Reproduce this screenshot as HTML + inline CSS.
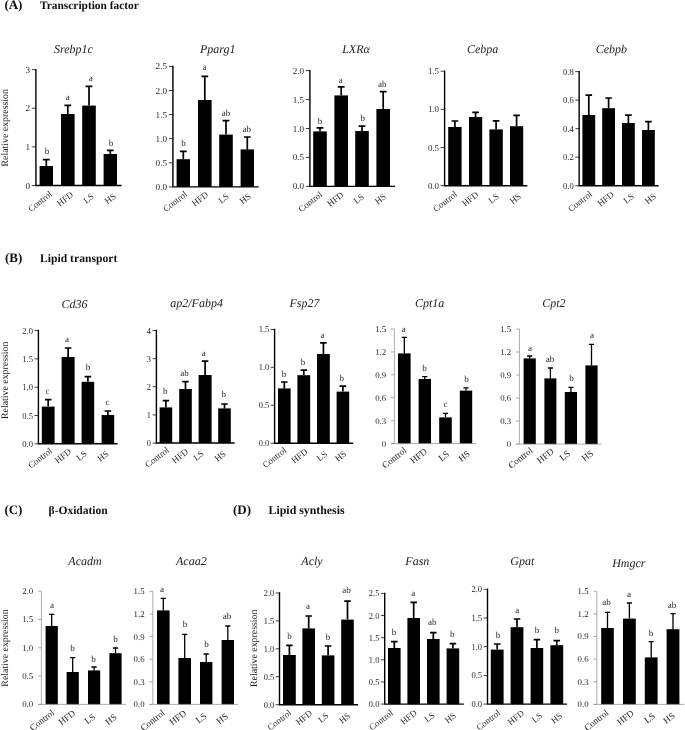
<!DOCTYPE html>
<html><head><meta charset="utf-8"><title>Figure</title>
<style>
html,body{margin:0;padding:0;background:#fff}
svg{display:block}
svg text{font-family:"Liberation Serif","DejaVu Serif",serif;text-rendering:geometricPrecision}
.ti{font-style:italic;font-size:12px;text-anchor:middle;fill:#222}
</style></head><body>
<svg width="685" height="730" viewBox="0 0 685 730">
<rect width="685" height="730" fill="#fff"/>
<defs><filter id="sf" x="0" y="0" width="685" height="730" filterUnits="userSpaceOnUse"><feGaussianBlur stdDeviation="0.25"/></filter></defs>
<g filter="url(#sf)">
<text x="4.4" y="9.4" font-size="13" font-weight="bold" fill="#111">(A)</text>
<text x="40" y="9.4" font-size="11.4" font-weight="bold" fill="#111">Transcription factor</text>
<text x="5" y="261.6" font-size="13" font-weight="bold" fill="#111">(B)</text>
<text x="40" y="262.2" font-size="11.65" font-weight="bold" fill="#111">Lipid transport</text>
<text x="4.4" y="514.4" font-size="13" font-weight="bold" fill="#111">(C)</text>
<text x="48.6" y="514.4" font-size="11.5" font-weight="bold" fill="#111">β-Oxidation</text>
<text x="233" y="514.4" font-size="13" font-weight="bold" fill="#111">(D)</text>
<text x="268.6" y="514.4" font-size="11.85" font-weight="bold" fill="#111">Lipid synthesis</text>
<g><text x="73.5" y="52.6" class="ti">Srebp1c</text>
<rect x="39.6" y="166" width="13.4" height="19.5"/>
<path d="M46.3 166V159.6M42.9 159.6H49.7" stroke="#000" stroke-width="1.7" fill="none"/>
<rect x="61" y="114" width="13.6" height="71.5"/>
<path d="M67.8 114V105.4M64.4 105.4H71.2" stroke="#000" stroke-width="1.7" fill="none"/>
<rect x="82.2" y="105.6" width="13.6" height="79.9"/>
<path d="M89 105.6V86.4M85.6 86.4H92.4" stroke="#000" stroke-width="1.7" fill="none"/>
<rect x="103.6" y="154" width="13.4" height="31.5"/>
<path d="M110.3 154V150.4M106.9 150.4H113.7" stroke="#000" stroke-width="1.7" fill="none"/>
<path d="M31.8 185.5H35.9M31.8 146.87H35.9M31.8 108.23H35.9M31.8 69.6H35.9" stroke="#000" stroke-width="0.75" fill="none"/>
<path d="M35.9 68.9V185.5M35.2 185.5H121.6" stroke="#000" stroke-width="1.4" fill="none"/>
<text x="30.1" y="188.54" text-anchor="end" font-size="9.2" fill="#2a2a2a">0</text>
<text x="30.1" y="149.9" text-anchor="end" font-size="9.2" fill="#2a2a2a">1</text>
<text x="30.1" y="111.27" text-anchor="end" font-size="9.2" fill="#2a2a2a">2</text>
<text x="30.1" y="72.64" text-anchor="end" font-size="9.2" fill="#2a2a2a">3</text>
<text x="47" y="154.1" text-anchor="middle" font-size="9.0" fill="#2a2a2a">b</text>
<text x="67.8" y="100.1" text-anchor="middle" font-size="9.0" fill="#2a2a2a">a</text>
<text x="90.7" y="80.9" text-anchor="middle" font-size="9.0" fill="#2a2a2a">a</text>
<text x="111" y="145.6" text-anchor="middle" font-size="9.0" fill="#2a2a2a">b</text>
<text transform="translate(52.7 195.3) rotate(-38)" text-anchor="end" font-size="9.0" fill="#2a2a2a">Control</text>
<text transform="translate(74 195.7) rotate(-38)" text-anchor="end" font-size="9.0" fill="#2a2a2a">HFD</text>
<text transform="translate(94.5 197.5) rotate(-38)" text-anchor="end" font-size="9.0" fill="#2a2a2a">LS</text>
<text transform="translate(116.6 197.3) rotate(-38)" text-anchor="end" font-size="9.0" fill="#2a2a2a">HS</text>
<text transform="translate(8.2 127.8) rotate(-90)" text-anchor="middle" font-size="9.85" fill="#1a1a1a">Relative expression</text></g>
<g><text x="217.7" y="52.7" class="ti">Pparg1</text>
<rect x="176.6" y="159.2" width="13.4" height="27.7"/>
<path d="M183.3 159.2V151.4M179.9 151.4H186.7" stroke="#000" stroke-width="1.7" fill="none"/>
<rect x="198" y="100" width="13.6" height="86.9"/>
<path d="M204.8 100V76.4M201.4 76.4H208.2" stroke="#000" stroke-width="1.7" fill="none"/>
<rect x="219.2" y="134.6" width="13.6" height="52.3"/>
<path d="M226 134.6V120.6M222.6 120.6H229.4" stroke="#000" stroke-width="1.7" fill="none"/>
<rect x="240.6" y="149.4" width="13.4" height="37.5"/>
<path d="M247.3 149.4V137M243.9 137H250.7" stroke="#000" stroke-width="1.7" fill="none"/>
<path d="M168.8 186.9H172.9M168.8 162.8H172.9M168.8 138.7H172.9M168.8 114.6H172.9M168.8 90.5H172.9M168.8 66.4H172.9" stroke="#000" stroke-width="0.75" fill="none"/>
<path d="M172.9 65.7V186.9M172.2 186.9H258.6" stroke="#000" stroke-width="1.4" fill="none"/>
<text x="167.1" y="189.94" text-anchor="end" font-size="9.2" fill="#2a2a2a">0.0</text>
<text x="167.1" y="165.84" text-anchor="end" font-size="9.2" fill="#2a2a2a">0.5</text>
<text x="167.1" y="141.74" text-anchor="end" font-size="9.2" fill="#2a2a2a">1.0</text>
<text x="167.1" y="117.64" text-anchor="end" font-size="9.2" fill="#2a2a2a">1.5</text>
<text x="167.1" y="93.54" text-anchor="end" font-size="9.2" fill="#2a2a2a">2.0</text>
<text x="167.1" y="69.44" text-anchor="end" font-size="9.2" fill="#2a2a2a">2.5</text>
<text x="183.6" y="145.6" text-anchor="middle" font-size="9.0" fill="#2a2a2a">b</text>
<text x="204.5" y="69.7" text-anchor="middle" font-size="9.0" fill="#2a2a2a">a</text>
<text x="226" y="115.5" text-anchor="middle" font-size="9.0" fill="#2a2a2a">ab</text>
<text x="246.7" y="131.7" text-anchor="middle" font-size="9.0" fill="#2a2a2a">ab</text>
<text transform="translate(187.7 195.3) rotate(-38)" text-anchor="end" font-size="9.0" fill="#2a2a2a">Control</text>
<text transform="translate(209 195.7) rotate(-38)" text-anchor="end" font-size="9.0" fill="#2a2a2a">HFD</text>
<text transform="translate(229.5 197.5) rotate(-38)" text-anchor="end" font-size="9.0" fill="#2a2a2a">LS</text>
<text transform="translate(251.6 197.3) rotate(-38)" text-anchor="end" font-size="9.0" fill="#2a2a2a">HS</text></g>
<g><text x="356" y="52.7" class="ti">LXRα</text>
<rect x="313.2" y="131.4" width="13.6" height="55"/>
<path d="M320 131.4V127.8M316.62 127.8H323.38" stroke="#000" stroke-width="1.7" fill="none"/>
<rect x="334.4" y="95.4" width="13.6" height="91"/>
<path d="M341.2 95.4V86.8M337.82 86.8H344.58" stroke="#000" stroke-width="1.7" fill="none"/>
<rect x="355.2" y="131" width="13.6" height="55.4"/>
<path d="M362 131V126.2M358.62 126.2H365.38" stroke="#000" stroke-width="1.7" fill="none"/>
<rect x="376.4" y="109" width="13.6" height="77.4"/>
<path d="M383.2 109V91.6M379.82 91.6H386.58" stroke="#000" stroke-width="1.7" fill="none"/>
<path d="M305.84 186.4H309.9M305.84 157.45H309.9M305.84 128.5H309.9M305.84 99.55H309.9M305.84 70.6H309.9" stroke="#000" stroke-width="0.75" fill="none"/>
<path d="M309.9 69.9V186.4M309.2 186.4H395.1" stroke="#000" stroke-width="1.4" fill="none"/>
<text transform="translate(304.16 189.44) scale(0.989 1)" text-anchor="end" font-size="9.2" fill="#2a2a2a">0.0</text>
<text transform="translate(304.16 160.49) scale(0.989 1)" text-anchor="end" font-size="9.2" fill="#2a2a2a">0.5</text>
<text transform="translate(304.16 131.54) scale(0.989 1)" text-anchor="end" font-size="9.2" fill="#2a2a2a">1.0</text>
<text transform="translate(304.16 102.59) scale(0.989 1)" text-anchor="end" font-size="9.2" fill="#2a2a2a">1.5</text>
<text transform="translate(304.16 73.64) scale(0.989 1)" text-anchor="end" font-size="9.2" fill="#2a2a2a">2.0</text>
<text x="319.9" y="124.2" text-anchor="middle" font-size="9.0" fill="#2a2a2a">b</text>
<text x="340.6" y="82.6" text-anchor="middle" font-size="9.0" fill="#2a2a2a">a</text>
<text x="362.7" y="121" text-anchor="middle" font-size="9.0" fill="#2a2a2a">b</text>
<text x="382.3" y="86.6" text-anchor="middle" font-size="9.0" fill="#2a2a2a">ab</text>
<text transform="translate(322.9 195.6) rotate(-38)" text-anchor="end" font-size="9.0" fill="#2a2a2a">Control</text>
<text transform="translate(344.2 196) rotate(-38)" text-anchor="end" font-size="9.0" fill="#2a2a2a">HFD</text>
<text transform="translate(364.7 197.8) rotate(-38)" text-anchor="end" font-size="9.0" fill="#2a2a2a">LS</text>
<text transform="translate(386.8 197.6) rotate(-38)" text-anchor="end" font-size="9.0" fill="#2a2a2a">HS</text></g>
<g><text x="482.6" y="52.7" class="ti">Cebpa</text>
<rect x="448.2" y="127" width="13.4" height="58.7"/>
<path d="M454.9 127V121M451.56 121H458.24" stroke="#000" stroke-width="1.7" fill="none"/>
<rect x="469" y="117" width="13.2" height="68.7"/>
<path d="M475.6 117V112.4M472.26 112.4H478.94" stroke="#000" stroke-width="1.7" fill="none"/>
<rect x="489.4" y="129.4" width="13.4" height="56.3"/>
<path d="M496.1 129.4V120.8M492.76 120.8H499.44" stroke="#000" stroke-width="1.7" fill="none"/>
<rect x="510" y="126.2" width="13.2" height="59.5"/>
<path d="M516.6 126.2V115.4M513.26 115.4H519.94" stroke="#000" stroke-width="1.7" fill="none"/>
<path d="M440.61 185.7H444.6M440.61 147.53H444.6M440.61 109.37H444.6M440.61 71.2H444.6" stroke="#000" stroke-width="0.75" fill="none"/>
<path d="M444.6 70.5V185.7M443.9 185.7H527.4" stroke="#000" stroke-width="1.4" fill="none"/>
<text transform="translate(438.99 188.74) scale(0.967 1)" text-anchor="end" font-size="9.2" fill="#2a2a2a">0.0</text>
<text transform="translate(438.99 150.57) scale(0.967 1)" text-anchor="end" font-size="9.2" fill="#2a2a2a">0.5</text>
<text transform="translate(438.99 112.4) scale(0.967 1)" text-anchor="end" font-size="9.2" fill="#2a2a2a">1.0</text>
<text transform="translate(438.99 74.24) scale(0.967 1)" text-anchor="end" font-size="9.2" fill="#2a2a2a">1.5</text>
<text transform="translate(457.8 195.3) rotate(-38)" text-anchor="end" font-size="9.0" fill="#2a2a2a">Control</text>
<text transform="translate(479.1 195.7) rotate(-38)" text-anchor="end" font-size="9.0" fill="#2a2a2a">HFD</text>
<text transform="translate(499.6 197.5) rotate(-38)" text-anchor="end" font-size="9.0" fill="#2a2a2a">LS</text>
<text transform="translate(521.7 197.3) rotate(-38)" text-anchor="end" font-size="9.0" fill="#2a2a2a">HS</text></g>
<g><text x="611.4" y="52.7" class="ti">Cebpb</text>
<rect x="582.4" y="115" width="12.8" height="70.7"/>
<path d="M588.8 115V95.2M585.51 95.2H592.09" stroke="#000" stroke-width="1.7" fill="none"/>
<rect x="602.2" y="108.2" width="12.8" height="77.5"/>
<path d="M608.6 108.2V98M605.31 98H611.89" stroke="#000" stroke-width="1.7" fill="none"/>
<rect x="622" y="123" width="12.8" height="62.7"/>
<path d="M628.4 123V115.2M625.11 115.2H631.69" stroke="#000" stroke-width="1.7" fill="none"/>
<rect x="642" y="130" width="12.8" height="55.7"/>
<path d="M648.4 130V121.6M645.11 121.6H651.69" stroke="#000" stroke-width="1.7" fill="none"/>
<path d="M575.28 185.7H579.15M575.28 157.17H579.15M575.28 128.65H579.15M575.28 100.12H579.15M575.28 71.6H579.15" stroke="#000" stroke-width="0.75" fill="none"/>
<path d="M579.15 70.9V185.7M578.45 185.7H658.6" stroke="#000" stroke-width="1.4" fill="none"/>
<text transform="translate(573.74 188.74) scale(0.933 1)" text-anchor="end" font-size="9.2" fill="#2a2a2a">0.0</text>
<text transform="translate(573.74 160.21) scale(0.933 1)" text-anchor="end" font-size="9.2" fill="#2a2a2a">0.2</text>
<text transform="translate(573.74 131.69) scale(0.933 1)" text-anchor="end" font-size="9.2" fill="#2a2a2a">0.4</text>
<text transform="translate(573.74 103.16) scale(0.933 1)" text-anchor="end" font-size="9.2" fill="#2a2a2a">0.6</text>
<text transform="translate(573.74 74.64) scale(0.933 1)" text-anchor="end" font-size="9.2" fill="#2a2a2a">0.8</text>
<text transform="translate(592.7 195.3) rotate(-38)" text-anchor="end" font-size="9.0" fill="#2a2a2a">Control</text>
<text transform="translate(614.6 195.7) rotate(-38)" text-anchor="end" font-size="9.0" fill="#2a2a2a">HFD</text>
<text transform="translate(634.6 197.5) rotate(-38)" text-anchor="end" font-size="9.0" fill="#2a2a2a">LS</text>
<text transform="translate(656.9 197.3) rotate(-38)" text-anchor="end" font-size="9.0" fill="#2a2a2a">HS</text></g>
<g><text x="74.6" y="307.9" class="ti">Cd36</text>
<rect x="41.8" y="406.6" width="12.8" height="37.2"/>
<path d="M48.2 406.6V399.6M44.91 399.6H51.49" stroke="#000" stroke-width="1.7" fill="none"/>
<rect x="61.6" y="357" width="13" height="86.8"/>
<path d="M68.1 357V348M64.81 348H71.39" stroke="#000" stroke-width="1.7" fill="none"/>
<rect x="81.6" y="381.8" width="12.6" height="62"/>
<path d="M87.9 381.8V376.6M84.61 376.6H91.19" stroke="#000" stroke-width="1.7" fill="none"/>
<rect x="101.6" y="415" width="12.6" height="28.8"/>
<path d="M107.9 415V411M104.61 411H111.19" stroke="#000" stroke-width="1.7" fill="none"/>
<path d="M34.52 443.8H38.4M34.52 415.48H38.4M34.52 387.15H38.4M34.52 358.82H38.4M34.52 330.5H38.4" stroke="#000" stroke-width="0.75" fill="none"/>
<path d="M38.4 329.8V443.8M37.7 443.8H117.6" stroke="#000" stroke-width="1.4" fill="none"/>
<text transform="translate(32.97 446.84) scale(0.936 1)" text-anchor="end" font-size="9.2" fill="#2a2a2a">0.0</text>
<text transform="translate(32.97 418.51) scale(0.936 1)" text-anchor="end" font-size="9.2" fill="#2a2a2a">0.5</text>
<text transform="translate(32.97 390.19) scale(0.936 1)" text-anchor="end" font-size="9.2" fill="#2a2a2a">1.0</text>
<text transform="translate(32.97 361.86) scale(0.936 1)" text-anchor="end" font-size="9.2" fill="#2a2a2a">1.5</text>
<text transform="translate(32.97 333.54) scale(0.936 1)" text-anchor="end" font-size="9.2" fill="#2a2a2a">2.0</text>
<text x="47.6" y="393.8" text-anchor="middle" font-size="9.0" fill="#2a2a2a">c</text>
<text x="67" y="342.2" text-anchor="middle" font-size="9.0" fill="#2a2a2a">a</text>
<text x="88" y="370.2" text-anchor="middle" font-size="9.0" fill="#2a2a2a">b</text>
<text x="107.6" y="405.2" text-anchor="middle" font-size="9.0" fill="#2a2a2a">c</text>
<text transform="translate(52.7 451.9) rotate(-38)" text-anchor="end" font-size="9.0" fill="#2a2a2a">Control</text>
<text transform="translate(72 452.7) rotate(-38)" text-anchor="end" font-size="9.0" fill="#2a2a2a">HFD</text>
<text transform="translate(87.5 454.7) rotate(-38)" text-anchor="end" font-size="9.0" fill="#2a2a2a">LS</text>
<text transform="translate(109.35 454.9) rotate(-38)" text-anchor="end" font-size="9.0" fill="#2a2a2a">HS</text>
<text transform="translate(8.2 380.3) rotate(-90)" text-anchor="middle" font-size="9.85" fill="#1a1a1a">Relative expression</text></g>
<g><text x="196.6" y="307" class="ti">ap2/Fabp4</text>
<rect x="159.6" y="407.4" width="12.6" height="35.65"/>
<path d="M165.9 407.4V400.6M162.64 400.6H169.16" stroke="#000" stroke-width="1.7" fill="none"/>
<rect x="179.2" y="389" width="12.6" height="54.05"/>
<path d="M185.5 389V381.6M182.24 381.6H188.76" stroke="#000" stroke-width="1.7" fill="none"/>
<rect x="198.6" y="375" width="13" height="68.05"/>
<path d="M205.1 375V361.2M201.84 361.2H208.36" stroke="#000" stroke-width="1.7" fill="none"/>
<rect x="218.2" y="408.4" width="12.6" height="34.65"/>
<path d="M224.5 408.4V404M221.24 404H227.76" stroke="#000" stroke-width="1.7" fill="none"/>
<path d="M152.58 443.05H156.4M152.58 414.91H156.4M152.58 386.77H156.4M152.58 358.64H156.4M152.58 330.5H156.4" stroke="#000" stroke-width="0.75" fill="none"/>
<path d="M156.4 329.8V443.05M155.7 443.05H234.6" stroke="#000" stroke-width="1.4" fill="none"/>
<text transform="translate(151.08 446.09) scale(0.917 1)" text-anchor="end" font-size="9.2" fill="#2a2a2a">0</text>
<text transform="translate(151.08 417.95) scale(0.917 1)" text-anchor="end" font-size="9.2" fill="#2a2a2a">1</text>
<text transform="translate(151.08 389.81) scale(0.917 1)" text-anchor="end" font-size="9.2" fill="#2a2a2a">2</text>
<text transform="translate(151.08 361.67) scale(0.917 1)" text-anchor="end" font-size="9.2" fill="#2a2a2a">3</text>
<text transform="translate(151.08 333.54) scale(0.917 1)" text-anchor="end" font-size="9.2" fill="#2a2a2a">4</text>
<text x="165.2" y="394.3" text-anchor="middle" font-size="9.0" fill="#2a2a2a">b</text>
<text x="184.6" y="375.9" text-anchor="middle" font-size="9.0" fill="#2a2a2a">ab</text>
<text x="203.8" y="355.5" text-anchor="middle" font-size="9.0" fill="#2a2a2a">a</text>
<text x="223.8" y="397.1" text-anchor="middle" font-size="9.0" fill="#2a2a2a">b</text>
<text transform="translate(169.7 451.1) rotate(-38)" text-anchor="end" font-size="9.0" fill="#2a2a2a">Control</text>
<text transform="translate(189 452.7) rotate(-38)" text-anchor="end" font-size="9.0" fill="#2a2a2a">HFD</text>
<text transform="translate(204.5 454.7) rotate(-38)" text-anchor="end" font-size="9.0" fill="#2a2a2a">LS</text>
<text transform="translate(226.55 454.9) rotate(-38)" text-anchor="end" font-size="9.0" fill="#2a2a2a">HS</text></g>
<g><text x="304.5" y="307" class="ti">Fsp27</text>
<rect x="278" y="388.4" width="12.6" height="54.8"/>
<path d="M284.3 388.4V382M281.04 382H287.56" stroke="#000" stroke-width="1.7" fill="none"/>
<rect x="297.4" y="375.2" width="12.8" height="68"/>
<path d="M303.8 375.2V370.2M300.54 370.2H307.06" stroke="#000" stroke-width="1.7" fill="none"/>
<rect x="317" y="354" width="12.8" height="89.2"/>
<path d="M323.4 354V342.8M320.14 342.8H326.66" stroke="#000" stroke-width="1.7" fill="none"/>
<rect x="336.6" y="391.6" width="12.6" height="51.6"/>
<path d="M342.9 391.6V386.2M339.64 386.2H346.16" stroke="#000" stroke-width="1.7" fill="none"/>
<path d="M270.78 443.2H274.6M270.78 405.27H274.6M270.78 367.33H274.6M270.78 329.4H274.6" stroke="#000" stroke-width="0.75" fill="none"/>
<path d="M274.6 328.7V443.2M273.9 443.2H353.2" stroke="#000" stroke-width="1.4" fill="none"/>
<text transform="translate(269.28 446.24) scale(0.917 1)" text-anchor="end" font-size="9.2" fill="#2a2a2a">0.0</text>
<text transform="translate(269.28 408.3) scale(0.917 1)" text-anchor="end" font-size="9.2" fill="#2a2a2a">0.5</text>
<text transform="translate(269.28 370.37) scale(0.917 1)" text-anchor="end" font-size="9.2" fill="#2a2a2a">1.0</text>
<text transform="translate(269.28 332.44) scale(0.917 1)" text-anchor="end" font-size="9.2" fill="#2a2a2a">1.5</text>
<text x="283.9" y="376.9" text-anchor="middle" font-size="9.0" fill="#2a2a2a">b</text>
<text x="302.9" y="364.5" text-anchor="middle" font-size="9.0" fill="#2a2a2a">b</text>
<text x="322.5" y="337.6" text-anchor="middle" font-size="9.0" fill="#2a2a2a">a</text>
<text x="341.8" y="380.5" text-anchor="middle" font-size="9.0" fill="#2a2a2a">b</text>
<text transform="translate(287.2 451.4) rotate(-38)" text-anchor="end" font-size="9.0" fill="#2a2a2a">Control</text>
<text transform="translate(308.4 452.7) rotate(-38)" text-anchor="end" font-size="9.0" fill="#2a2a2a">HFD</text>
<text transform="translate(327.9 455.2) rotate(-38)" text-anchor="end" font-size="9.0" fill="#2a2a2a">LS</text>
<text transform="translate(347.05 454.9) rotate(-38)" text-anchor="end" font-size="9.0" fill="#2a2a2a">HS</text></g>
<g><text x="429.7" y="307" class="ti">Cpt1a</text>
<rect x="398" y="353.4" width="12.6" height="90.2"/>
<path d="M404.3 353.4V337.4M401.7 337.4H406.9" stroke="#000" stroke-width="1.3" fill="none"/>
<rect x="418.6" y="379" width="12.4" height="64.6"/>
<path d="M424.8 379V376.6M422.2 376.6H427.4" stroke="#000" stroke-width="1.3" fill="none"/>
<rect x="439.2" y="417.4" width="12.6" height="26.2"/>
<path d="M445.5 417.4V413.4M442.9 413.4H448.1" stroke="#000" stroke-width="1.3" fill="none"/>
<rect x="459.8" y="390.6" width="12.4" height="53"/>
<path d="M466 390.6V387.8M463.4 387.8H468.6" stroke="#000" stroke-width="1.3" fill="none"/>
<path d="M391.05 443.6H394.4M391.05 420.68H394.4M391.05 397.76H394.4M391.05 374.84H394.4M391.05 351.92H394.4M391.05 329H394.4" stroke="#8a8a8a" stroke-width="0.7" fill="none"/>
<path d="M394.4 329V443.6M391.4 443.6H476.4" stroke="#8a8a8a" stroke-width="0.7" fill="none"/>
<text x="386.2" y="446.5" text-anchor="end" font-size="8.8" fill="#262626">0</text>
<text x="386.2" y="423.58" text-anchor="end" font-size="8.8" fill="#262626">0.3</text>
<text x="386.2" y="400.66" text-anchor="end" font-size="8.8" fill="#262626">0.6</text>
<text x="386.2" y="377.74" text-anchor="end" font-size="8.8" fill="#262626">0.9</text>
<text x="386.2" y="354.82" text-anchor="end" font-size="8.8" fill="#262626">1.2</text>
<text x="386.2" y="331.9" text-anchor="end" font-size="8.8" fill="#262626">1.5</text>
<text x="403.4" y="332.2" text-anchor="middle" font-size="9.1" fill="#262626">a</text>
<text x="424.6" y="371.2" text-anchor="middle" font-size="9.1" fill="#262626">b</text>
<text x="445.6" y="407.2" text-anchor="middle" font-size="9.1" fill="#262626">c</text>
<text x="466.6" y="382.2" text-anchor="middle" font-size="9.1" fill="#262626">b</text>
<text transform="translate(407.2 451.4) rotate(-38)" text-anchor="end" font-size="9.2" fill="#262626">Control</text>
<text transform="translate(427.7 452.7) rotate(-38)" text-anchor="end" font-size="9.2" fill="#262626">HFD</text>
<text transform="translate(449.9 455.2) rotate(-38)" text-anchor="end" font-size="9.2" fill="#262626">LS</text>
<text transform="translate(470.65 454.9) rotate(-38)" text-anchor="end" font-size="9.2" fill="#262626">HS</text></g>
<g><text x="553.8" y="307" class="ti">Cpt2</text>
<rect x="523.6" y="358.4" width="12.2" height="85.7"/>
<path d="M529.7 358.4V356M527.1 356H532.3" stroke="#000" stroke-width="1.3" fill="none"/>
<rect x="544.4" y="378.4" width="12" height="65.7"/>
<path d="M550.4 378.4V368M547.8 368H553" stroke="#000" stroke-width="1.3" fill="none"/>
<rect x="564.8" y="392" width="12.2" height="52.1"/>
<path d="M570.9 392V387.4M568.3 387.4H573.5" stroke="#000" stroke-width="1.3" fill="none"/>
<rect x="585.4" y="365.4" width="12.2" height="78.7"/>
<path d="M591.5 365.4V344.4M588.9 344.4H594.1" stroke="#000" stroke-width="1.3" fill="none"/>
<path d="M516.05 444.1H519.4M516.05 421.08H519.4M516.05 398.06H519.4M516.05 375.04H519.4M516.05 352.02H519.4M516.05 329H519.4" stroke="#8a8a8a" stroke-width="0.7" fill="none"/>
<path d="M519.4 329V444.1M516.4 444.1H601.6" stroke="#8a8a8a" stroke-width="0.7" fill="none"/>
<text x="511.2" y="447" text-anchor="end" font-size="8.8" fill="#262626">0</text>
<text x="511.2" y="423.98" text-anchor="end" font-size="8.8" fill="#262626">0.3</text>
<text x="511.2" y="400.96" text-anchor="end" font-size="8.8" fill="#262626">0.6</text>
<text x="511.2" y="377.94" text-anchor="end" font-size="8.8" fill="#262626">0.9</text>
<text x="511.2" y="354.92" text-anchor="end" font-size="8.8" fill="#262626">1.2</text>
<text x="511.2" y="331.9" text-anchor="end" font-size="8.8" fill="#262626">1.5</text>
<text x="530" y="350.8" text-anchor="middle" font-size="9.1" fill="#262626">a</text>
<text x="550" y="361.6" text-anchor="middle" font-size="9.1" fill="#262626">ab</text>
<text x="571.6" y="381.2" text-anchor="middle" font-size="9.1" fill="#262626">b</text>
<text x="592" y="338.2" text-anchor="middle" font-size="9.1" fill="#262626">a</text>
<text transform="translate(533.4 451.6) rotate(-38)" text-anchor="end" font-size="9.2" fill="#262626">Control</text>
<text transform="translate(554.6 452.7) rotate(-38)" text-anchor="end" font-size="9.2" fill="#262626">HFD</text>
<text transform="translate(570.9 454.7) rotate(-38)" text-anchor="end" font-size="9.2" fill="#262626">LS</text>
<text transform="translate(594.05 454.5) rotate(-38)" text-anchor="end" font-size="9.2" fill="#262626">HS</text></g>
<g><text x="85" y="565.4" class="ti">Acadm</text>
<rect x="45.6" y="626" width="12.2" height="78.4"/>
<path d="M51.7 626V614.4M49.1 614.4H54.3" stroke="#000" stroke-width="1.3" fill="none"/>
<rect x="66.6" y="672" width="12.2" height="32.4"/>
<path d="M72.7 672V657.6M70.1 657.6H75.3" stroke="#000" stroke-width="1.3" fill="none"/>
<rect x="88" y="670.4" width="12.2" height="34"/>
<path d="M94.1 670.4V667M91.5 667H96.7" stroke="#000" stroke-width="1.3" fill="none"/>
<rect x="109.4" y="653.2" width="12.2" height="51.2"/>
<path d="M115.5 653.2V648M112.9 648H118.1" stroke="#000" stroke-width="1.3" fill="none"/>
<path d="M38.05 704.4H41.4M38.05 676.1H41.4M38.05 647.8H41.4M38.05 619.5H41.4M38.05 591.2H41.4" stroke="#8a8a8a" stroke-width="0.7" fill="none"/>
<path d="M41.4 591.2V704.4M38.4 704.4H125.8" stroke="#8a8a8a" stroke-width="0.7" fill="none"/>
<text x="33.2" y="707.3" text-anchor="end" font-size="8.8" fill="#262626">0.0</text>
<text x="33.2" y="679" text-anchor="end" font-size="8.8" fill="#262626">0.5</text>
<text x="33.2" y="650.7" text-anchor="end" font-size="8.8" fill="#262626">1.0</text>
<text x="33.2" y="622.4" text-anchor="end" font-size="8.8" fill="#262626">1.5</text>
<text x="33.2" y="594.1" text-anchor="end" font-size="8.8" fill="#262626">2.0</text>
<text x="52" y="608.2" text-anchor="middle" font-size="9.1" fill="#262626">a</text>
<text x="72.6" y="651" text-anchor="middle" font-size="9.1" fill="#262626">b</text>
<text x="93.6" y="661.8" text-anchor="middle" font-size="9.1" fill="#262626">b</text>
<text x="115.6" y="642.1" text-anchor="middle" font-size="9.1" fill="#262626">b</text>
<text transform="translate(55 713.9) rotate(-38)" text-anchor="end" font-size="9.2" fill="#262626">Control</text>
<text transform="translate(75.9 714.3) rotate(-38)" text-anchor="end" font-size="9.2" fill="#262626">HFD</text>
<text transform="translate(96 718) rotate(-38)" text-anchor="end" font-size="9.2" fill="#262626">LS</text>
<text transform="translate(117.55 718.2) rotate(-38)" text-anchor="end" font-size="9.2" fill="#262626">HS</text>
<text transform="translate(8.2 648) rotate(-90)" text-anchor="middle" font-size="9.85" fill="#1a1a1a">Relative expression</text></g>
<g><text x="191.3" y="565" class="ti">Acaa2</text>
<rect x="157" y="610.4" width="12.6" height="94"/>
<path d="M163.3 610.4V598.4M160.7 598.4H165.9" stroke="#000" stroke-width="1.3" fill="none"/>
<rect x="178.4" y="658" width="12.6" height="46.4"/>
<path d="M184.7 658V634.4M182.1 634.4H187.3" stroke="#000" stroke-width="1.3" fill="none"/>
<rect x="200" y="662" width="12.4" height="42.4"/>
<path d="M206.2 662V654M203.6 654H208.8" stroke="#000" stroke-width="1.3" fill="none"/>
<rect x="221.6" y="640" width="12.4" height="64.4"/>
<path d="M227.8 640V626M225.2 626H230.4" stroke="#000" stroke-width="1.3" fill="none"/>
<path d="M149.45 704.4H152.8M149.45 681.8H152.8M149.45 659.2H152.8M149.45 636.6H152.8M149.45 614H152.8M149.45 591.4H152.8" stroke="#8a8a8a" stroke-width="0.7" fill="none"/>
<path d="M152.8 591.4V704.4M149.8 704.4H238" stroke="#8a8a8a" stroke-width="0.7" fill="none"/>
<text x="144.6" y="707.3" text-anchor="end" font-size="8.8" fill="#262626">0.0</text>
<text x="144.6" y="684.7" text-anchor="end" font-size="8.8" fill="#262626">0.3</text>
<text x="144.6" y="662.1" text-anchor="end" font-size="8.8" fill="#262626">0.6</text>
<text x="144.6" y="639.5" text-anchor="end" font-size="8.8" fill="#262626">0.9</text>
<text x="144.6" y="616.9" text-anchor="end" font-size="8.8" fill="#262626">1.2</text>
<text x="144.6" y="594.3" text-anchor="end" font-size="8.8" fill="#262626">1.5</text>
<text x="162" y="591.8" text-anchor="middle" font-size="9.1" fill="#262626">a</text>
<text x="185" y="626.8" text-anchor="middle" font-size="9.1" fill="#262626">b</text>
<text x="206.4" y="646.8" text-anchor="middle" font-size="9.1" fill="#262626">b</text>
<text x="227" y="618.8" text-anchor="middle" font-size="9.1" fill="#262626">ab</text>
<text transform="translate(165.6 713.9) rotate(-38)" text-anchor="end" font-size="9.2" fill="#262626">Control</text>
<text transform="translate(187 714.3) rotate(-38)" text-anchor="end" font-size="9.2" fill="#262626">HFD</text>
<text transform="translate(207.3 717.2) rotate(-38)" text-anchor="end" font-size="9.2" fill="#262626">LS</text>
<text transform="translate(228.85 717.4) rotate(-38)" text-anchor="end" font-size="9.2" fill="#262626">HS</text></g>
<g><text x="312" y="565.4" class="ti">Acly</text>
<rect x="283" y="655" width="12.8" height="49.7"/>
<path d="M289.4 655V645.4M286.15 645.4H292.65" stroke="#000" stroke-width="1.7" fill="none"/>
<rect x="302.4" y="628.4" width="12.6" height="76.3"/>
<path d="M308.7 628.4V616M305.45 616H311.95" stroke="#000" stroke-width="1.7" fill="none"/>
<rect x="321.8" y="655.4" width="12.6" height="49.3"/>
<path d="M328.1 655.4V646M324.85 646H331.35" stroke="#000" stroke-width="1.7" fill="none"/>
<rect x="341.2" y="619.6" width="12.6" height="85.1"/>
<path d="M347.5 619.6V601.2M344.25 601.2H350.75" stroke="#000" stroke-width="1.7" fill="none"/>
<path d="M275.7 704.7H279.5M275.7 676.78H279.5M275.7 648.85H279.5M275.7 620.92H279.5M275.7 593H279.5" stroke="#000" stroke-width="0.75" fill="none"/>
<path d="M279.5 592.3V704.7M278.8 704.7H358" stroke="#000" stroke-width="1.4" fill="none"/>
<text transform="translate(274.22 707.74) scale(0.911 1)" text-anchor="end" font-size="9.2" fill="#2a2a2a">0.0</text>
<text transform="translate(274.22 679.81) scale(0.911 1)" text-anchor="end" font-size="9.2" fill="#2a2a2a">0.5</text>
<text transform="translate(274.22 651.89) scale(0.911 1)" text-anchor="end" font-size="9.2" fill="#2a2a2a">1.0</text>
<text transform="translate(274.22 623.96) scale(0.911 1)" text-anchor="end" font-size="9.2" fill="#2a2a2a">1.5</text>
<text transform="translate(274.22 596.04) scale(0.911 1)" text-anchor="end" font-size="9.2" fill="#2a2a2a">2.0</text>
<text x="289.4" y="638.8" text-anchor="middle" font-size="9.0" fill="#2a2a2a">b</text>
<text x="308" y="609.2" text-anchor="middle" font-size="9.0" fill="#2a2a2a">a</text>
<text x="328" y="639.6" text-anchor="middle" font-size="9.0" fill="#2a2a2a">b</text>
<text x="346.6" y="593.2" text-anchor="middle" font-size="9.0" fill="#2a2a2a">ab</text>
<text transform="translate(292 713.9) rotate(-38)" text-anchor="end" font-size="9.0" fill="#2a2a2a">Control</text>
<text transform="translate(312.9 714.3) rotate(-38)" text-anchor="end" font-size="9.0" fill="#2a2a2a">HFD</text>
<text transform="translate(329.2 716.7) rotate(-38)" text-anchor="end" font-size="9.0" fill="#2a2a2a">LS</text>
<text transform="translate(351.05 716.9) rotate(-38)" text-anchor="end" font-size="9.0" fill="#2a2a2a">HS</text>
<text transform="translate(257.2 648.3) rotate(-90)" text-anchor="middle" font-size="9.85" fill="#1a1a1a">Relative expression</text></g>
<g><text x="417.3" y="565" class="ti">Fasn</text>
<rect x="388" y="648" width="12.6" height="56.1"/>
<path d="M394.3 648V641.6M391.04 641.6H397.56" stroke="#000" stroke-width="1.7" fill="none"/>
<rect x="407.4" y="618" width="12.6" height="86.1"/>
<path d="M413.7 618V602.4M410.44 602.4H416.96" stroke="#000" stroke-width="1.7" fill="none"/>
<rect x="427" y="639" width="12.6" height="65.1"/>
<path d="M433.3 639V632.6M430.04 632.6H436.56" stroke="#000" stroke-width="1.7" fill="none"/>
<rect x="446.6" y="648.4" width="12.6" height="55.7"/>
<path d="M452.9 648.4V643.6M449.64 643.6H456.16" stroke="#000" stroke-width="1.7" fill="none"/>
<path d="M380.88 704.1H384.7M380.88 681.96H384.7M380.88 659.82H384.7M380.88 637.68H384.7M380.88 615.54H384.7M380.88 593.4H384.7" stroke="#000" stroke-width="0.75" fill="none"/>
<path d="M384.7 592.7V704.1M384 704.1H463.9" stroke="#000" stroke-width="1.4" fill="none"/>
<text transform="translate(379.38 707.14) scale(0.917 1)" text-anchor="end" font-size="9.2" fill="#2a2a2a">0.0</text>
<text transform="translate(379.38 685) scale(0.917 1)" text-anchor="end" font-size="9.2" fill="#2a2a2a">0.5</text>
<text transform="translate(379.38 662.86) scale(0.917 1)" text-anchor="end" font-size="9.2" fill="#2a2a2a">1.0</text>
<text transform="translate(379.38 640.72) scale(0.917 1)" text-anchor="end" font-size="9.2" fill="#2a2a2a">1.5</text>
<text transform="translate(379.38 618.58) scale(0.917 1)" text-anchor="end" font-size="9.2" fill="#2a2a2a">2.0</text>
<text transform="translate(379.38 596.44) scale(0.917 1)" text-anchor="end" font-size="9.2" fill="#2a2a2a">2.5</text>
<text x="393.9" y="635.4" text-anchor="middle" font-size="9.0" fill="#2a2a2a">b</text>
<text x="413.2" y="595.9" text-anchor="middle" font-size="9.0" fill="#2a2a2a">a</text>
<text x="432.2" y="625.3" text-anchor="middle" font-size="9.0" fill="#2a2a2a">ab</text>
<text x="452.3" y="637.4" text-anchor="middle" font-size="9.0" fill="#2a2a2a">b</text>
<text transform="translate(393.8 713.9) rotate(-38)" text-anchor="end" font-size="9.0" fill="#2a2a2a">Control</text>
<text transform="translate(417.6 714) rotate(-38)" text-anchor="end" font-size="9.0" fill="#2a2a2a">HFD</text>
<text transform="translate(435.5 716.4) rotate(-38)" text-anchor="end" font-size="9.0" fill="#2a2a2a">LS</text>
<text transform="translate(456.75 716.6) rotate(-38)" text-anchor="end" font-size="9.0" fill="#2a2a2a">HS</text></g>
<g><text x="522.3" y="564.6" class="ti">Gpat</text>
<rect x="490.8" y="649.6" width="12.8" height="54.5"/>
<path d="M497.2 649.6V644M493.91 644H500.49" stroke="#000" stroke-width="1.7" fill="none"/>
<rect x="510.6" y="627.2" width="12.8" height="76.9"/>
<path d="M517 627.2V619M513.71 619H520.29" stroke="#000" stroke-width="1.7" fill="none"/>
<rect x="530.6" y="648" width="12.6" height="56.1"/>
<path d="M536.9 648V639.6M533.61 639.6H540.19" stroke="#000" stroke-width="1.7" fill="none"/>
<rect x="550.4" y="645.2" width="12.8" height="58.9"/>
<path d="M556.8 645.2V640.6M553.51 640.6H560.09" stroke="#000" stroke-width="1.7" fill="none"/>
<path d="M483.63 704.1H487.5M483.63 675.4H487.5M483.63 646.7H487.5M483.63 618H487.5M483.63 589.3H487.5" stroke="#000" stroke-width="0.75" fill="none"/>
<path d="M487.5 588.6V704.1M486.8 704.1H567.1" stroke="#000" stroke-width="1.4" fill="none"/>
<text transform="translate(482.09 707.14) scale(0.933 1)" text-anchor="end" font-size="9.2" fill="#2a2a2a">0.0</text>
<text transform="translate(482.09 678.44) scale(0.933 1)" text-anchor="end" font-size="9.2" fill="#2a2a2a">0.5</text>
<text transform="translate(482.09 649.74) scale(0.933 1)" text-anchor="end" font-size="9.2" fill="#2a2a2a">1.0</text>
<text transform="translate(482.09 621.04) scale(0.933 1)" text-anchor="end" font-size="9.2" fill="#2a2a2a">1.5</text>
<text transform="translate(482.09 592.34) scale(0.933 1)" text-anchor="end" font-size="9.2" fill="#2a2a2a">2.0</text>
<text x="497.9" y="638.1" text-anchor="middle" font-size="9.0" fill="#2a2a2a">b</text>
<text x="517.3" y="612.5" text-anchor="middle" font-size="9.0" fill="#2a2a2a">a</text>
<text x="536.9" y="632.8" text-anchor="middle" font-size="9.0" fill="#2a2a2a">b</text>
<text x="556.7" y="632.8" text-anchor="middle" font-size="9.0" fill="#2a2a2a">b</text>
<text transform="translate(501 713.9) rotate(-38)" text-anchor="end" font-size="9.0" fill="#2a2a2a">Control</text>
<text transform="translate(524.8 714.3) rotate(-38)" text-anchor="end" font-size="9.0" fill="#2a2a2a">HFD</text>
<text transform="translate(543 716.7) rotate(-38)" text-anchor="end" font-size="9.0" fill="#2a2a2a">LS</text>
<text transform="translate(562.95 716.9) rotate(-38)" text-anchor="end" font-size="9.0" fill="#2a2a2a">HS</text></g>
<g><text x="628.8" y="567" class="ti">Hmgcr</text>
<rect x="601.2" y="628" width="12.6" height="76.4"/>
<path d="M607.5 628V612.4M604.9 612.4H610.1" stroke="#000" stroke-width="1.3" fill="none"/>
<rect x="623" y="618.6" width="12.8" height="85.8"/>
<path d="M629.4 618.6V603M626.8 603H632" stroke="#000" stroke-width="1.3" fill="none"/>
<rect x="644.8" y="657.4" width="12.8" height="47"/>
<path d="M651.2 657.4V641.6M648.6 641.6H653.8" stroke="#000" stroke-width="1.3" fill="none"/>
<rect x="666.6" y="629.2" width="12.8" height="75.2"/>
<path d="M673 629.2V613.6M670.4 613.6H675.6" stroke="#000" stroke-width="1.3" fill="none"/>
<path d="M593.45 704.4H596.8M593.45 681.76H596.8M593.45 659.12H596.8M593.45 636.48H596.8M593.45 613.84H596.8M593.45 591.2H596.8" stroke="#8a8a8a" stroke-width="0.7" fill="none"/>
<path d="M596.8 591.2V704.4M593.8 704.4H684.2" stroke="#8a8a8a" stroke-width="0.7" fill="none"/>
<text x="588.6" y="707.3" text-anchor="end" font-size="8.8" fill="#262626">0.0</text>
<text x="588.6" y="684.66" text-anchor="end" font-size="8.8" fill="#262626">0.3</text>
<text x="588.6" y="662.02" text-anchor="end" font-size="8.8" fill="#262626">0.6</text>
<text x="588.6" y="639.38" text-anchor="end" font-size="8.8" fill="#262626">0.9</text>
<text x="588.6" y="616.74" text-anchor="end" font-size="8.8" fill="#262626">1.2</text>
<text x="588.6" y="594.1" text-anchor="end" font-size="8.8" fill="#262626">1.5</text>
<text x="606.6" y="604.9" text-anchor="middle" font-size="9.1" fill="#262626">ab</text>
<text x="629.1" y="596.7" text-anchor="middle" font-size="9.1" fill="#262626">a</text>
<text x="651" y="636.1" text-anchor="middle" font-size="9.1" fill="#262626">b</text>
<text x="672" y="608.2" text-anchor="middle" font-size="9.1" fill="#262626">ab</text>
<text transform="translate(609.3 713.9) rotate(-38)" text-anchor="end" font-size="9.2" fill="#262626">Control</text>
<text transform="translate(634.6 714.3) rotate(-38)" text-anchor="end" font-size="9.2" fill="#262626">HFD</text>
<text transform="translate(655.7 717.2) rotate(-38)" text-anchor="end" font-size="9.2" fill="#262626">LS</text>
<text transform="translate(675.55 716.9) rotate(-38)" text-anchor="end" font-size="9.2" fill="#262626">HS</text></g>
</g>
</svg>
</body></html>
